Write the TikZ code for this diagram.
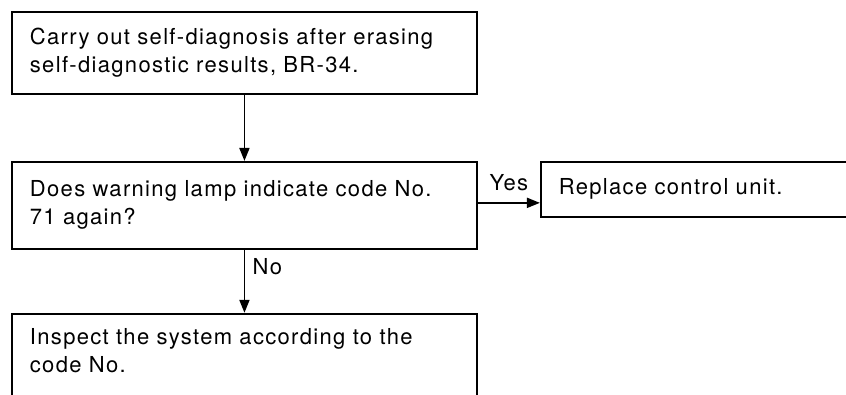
\documentclass[tikz,border=0pt]{standalone}
\usepackage{fontspec}
\setmainfont{TeX Gyre Heros}[LetterSpace=6]
\usetikzlibrary{positioning,arrows.meta}

\begin{document}
\begin{tikzpicture}[x=1pt, y=-1pt, line width=1.9pt, node distance=66pt,
  every node/.style={font=\fontsize{22}{28}\selectfont},
  stepbox/.style={draw, align=left, inner xsep=18pt, inner ysep=0pt, text width=#1},
  flow/.style={-{Triangle[length=13pt,width=10pt]}}]
\useasboundingbox (0,0) rectangle (846,394);
\clip (0,0) rectangle (846,394);
\node[stepbox=429pt, minimum height=82pt, anchor=north west] (erase) at (11,11) {Carry out self-diagnosis after erasing\\ self-diagnostic results, BR-34.};
\node[stepbox=429pt, minimum height=87pt, below=of erase] (lamp) {Does warning lamp indicate code No.\\ 71 again?};
\node[stepbox=300pt, minimum height=55pt, right=62pt of lamp.north east, anchor=north west] (replace) {Replace control unit.};
\node[stepbox=429pt, inner ysep=15pt, text depth=120pt, below=63pt of lamp] (inspect) {Inspect the system according to the\\ code No.};
% connectors
\draw[flow] (lamp.east) ++(0,-2.5) coordinate (yes)
  (erase) -- (lamp);
\draw[flow] (yes) -- node[above=8pt]{Yes} (yes -| replace.west);
\draw[flow] (lamp) -- node[right=4pt, pos=0.27]{No} (inspect);
\end{tikzpicture}
\end{document}
